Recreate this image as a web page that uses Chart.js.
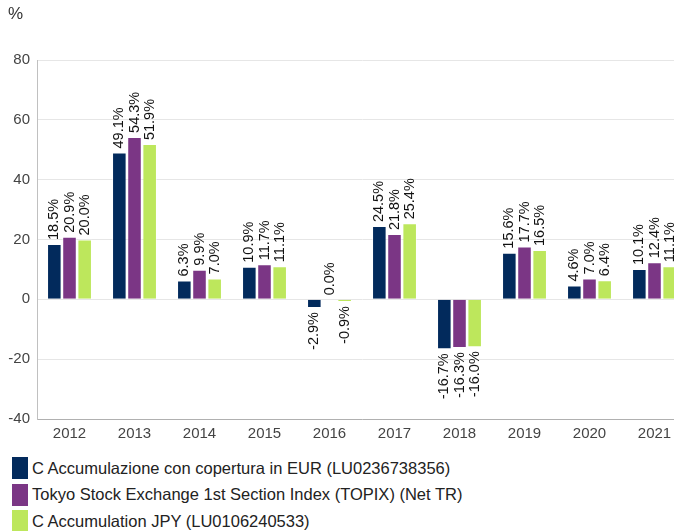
<!DOCTYPE html>
<html>
<head>
<meta charset="utf-8">
<script src="https://cdn.jsdelivr.net/npm/chart.js@4.4.0/dist/chart.umd.min.js"></script>
<style>
  html, body { margin: 0; padding: 0; background: #fff; overflow: hidden; }
  body { width: 674px; height: 531px; position: relative; font-family: "Liberation Sans", Arial, sans-serif; }
  #wrap { position: absolute; left: 0; top: 0; width: 690px; height: 449px; }
  #unit { position: absolute; left: 8px; top: 4px; font-size: 17px; color: #333; }
  #legend { position: absolute; left: 12px; top: 455px; }
  .item { display: flex; align-items: center; height: 26.5px; font-size: 16.5px; color: #222; white-space: nowrap; }
  .box { width: 16px; height: 22px; margin-right: 4px; }
</style>
</head>
<body>
<div id="wrap"><canvas id="chart"></canvas></div>
<div id="unit">%</div>
<div id="legend"></div>
<script>
// categories and series
const years = ['2012', '2013', '2014', '2015', '2016', '2017', '2018', '2019', '2020', '2021'];
const eurHedged = [18.5, 49.1, 6.3, 10.9, -2.9, 24.5, -16.7, 15.6, 4.6, 10.1];
const topix = [20.9, 54.3, 9.9, 11.7, 0.0, 21.8, -16.3, 17.7, 7.0, 12.4];
const jpyAcc = [20.0, 51.9, 7.0, 11.1, -0.9, 25.4, -16.0, 16.5, 6.4, 11.1];

const seriesNames = [
  'C Accumulazione con copertura in EUR (LU0236738356)',
  'Tokyo Stock Exchange 1st Section Index (TOPIX) (Net TR)',
  'C Accumulation JPY (LU0106240533)'
];
const seriesColors = ['#022a5c', '#7b3685', '#bde75c'];
const yTicks = [-40, -20, 0, 20, 40, 60, 80];

// rotated value labels above / below each bar
const barLabels = {
  id: 'barLabels',
  afterDatasetsDraw(chart) {
    const ctx = chart.ctx;
    ctx.save();
    ctx.font = '14.5px "Liberation Sans", Arial, sans-serif';
    ctx.fillStyle = '#111';
    ctx.textBaseline = 'middle';
    chart.data.datasets.forEach((ds, i) => {
      chart.getDatasetMeta(i).data.forEach((bar, j) => {
        const v = ds.data[j];
        const txt = v.toFixed(1) + '%';
        ctx.save();
        ctx.translate(bar.x, bar.y);
        ctx.rotate(-Math.PI / 2);
        if (v >= 0) {
          ctx.textAlign = 'left';
          ctx.fillText(txt, 4, 0);
        } else {
          ctx.textAlign = 'right';
          ctx.fillText(txt, -4, 0);
        }
        ctx.restore();
      });
    });
    ctx.restore();
  }
};

const datasets = [eurHedged, topix, jpyAcc].map((vals, i) => ({
  label: seriesNames[i],
  data: vals,
  backgroundColor: seriesColors[i],
  borderColor: 'rgba(255,255,255,0.55)',
  borderWidth: 1,
  barPercentage: 0.96,
  categoryPercentage: 0.7
}));

new Chart(document.getElementById('chart'), {
  type: 'bar',
  data: { labels: years, datasets: datasets },
  options: {
    responsive: true,
    maintainAspectRatio: false,
    animation: false,
    layout: { padding: { top: 60, right: 3, left: 0, bottom: 0 } },
    plugins: {
      legend: { display: false },
      tooltip: { enabled: false }
    },
    scales: {
      x: {
        grid: { display: false, drawTicks: false },
        border: { color: '#b0b0b0', width: 1 },
        ticks: { color: '#444', font: { size: 15, family: '"Liberation Sans", Arial, sans-serif' }, padding: 6 }
      },
      y: {
        min: -40,
        max: 80,
        afterBuildTicks(scale) { scale.ticks = yTicks.map(v => ({ value: v })); },
        afterFit(scale) { scale.width = 37; },
        grid: { color: '#e6e6e6', drawTicks: false },
        border: { color: '#c0c0c0', width: 1 },
        ticks: { color: '#444', font: { size: 15, family: '"Liberation Sans", Arial, sans-serif' }, padding: 7 }
      }
    }
  },
  plugins: [barLabels]
});

// legend, one entry per row like the reference
const legend = document.getElementById('legend');
seriesNames.forEach((name, i) => {
  const row = document.createElement('div');
  row.className = 'item';
  const box = document.createElement('span');
  box.className = 'box';
  box.style.background = seriesColors[i];
  row.appendChild(box);
  row.appendChild(document.createTextNode(name));
  legend.appendChild(row);
});
</script>
</body>
</html>
